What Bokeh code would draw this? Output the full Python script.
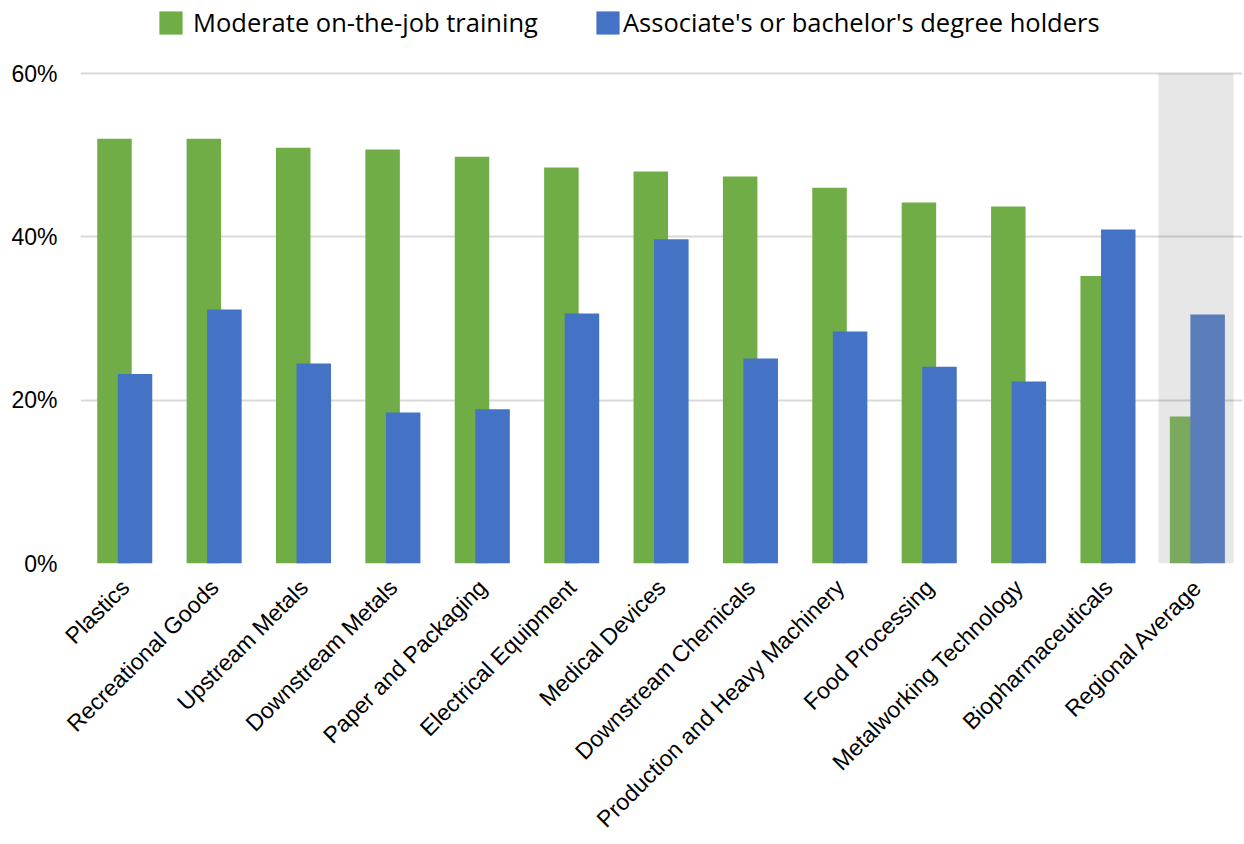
from bokeh.plotting import figure
from bokeh.models import (ColumnDataSource, FactorRange, FixedTicker, PrintfTickFormatter,
                          Legend, LegendItem, Range1d)
from bokeh.transform import dodge
from bokeh.embed import file_html
from bokeh.resources import INLINE
import math

# ---- data ----
categories = ["Plastics", "Recreational Goods", "Upstream Metals", "Downstream Metals",
              "Paper and Packaging", "Electrical Equipment", "Medical Devices",
              "Downstream Chemicals", "Production and Heavy Machinery", "Food Processing",
              "Metalworking Technology", "Biopharmaceuticals", "Regional Average"]
training = [52.0, 52.0, 50.9, 50.7, 49.8, 48.5, 48.0, 47.4, 46.0, 44.2, 43.7, 35.2, 18.0]
degree = [23.2, 31.1, 24.5, 18.5, 18.9, 30.6, 39.7, 25.1, 28.4, 24.1, 22.3, 40.9, 30.5]
series_names = ["Moderate on-the-job training", "Associate's or bachelor's degree holders"]
y_ticks = [0, 20, 40, 60]
highlight = "Regional Average"

GREEN, BLUE = "#70AD47", "#4472C4"
GREEN_H, BLUE_H = "#7BA95D", "#5B7DBC"

idx = [i for i, c in enumerate(categories) if c != highlight]
hidx = [i for i, c in enumerate(categories) if c == highlight]

main = ColumnDataSource(dict(cat=[categories[i] for i in idx],
                             tr=[training[i] for i in idx],
                             dg=[degree[i] for i in idx]))
hsrc = ColumnDataSource(dict(cat=[categories[i] for i in hidx],
                             tr=[training[i] for i in hidx],
                             dg=[degree[i] for i in hidx],
                             top=[max(y_ticks)] * len(hidx)))

# frame spans the full top so the legend can sit inside it; headroom above 60%
FRAME_H = 563
Y_TOP = max(y_ticks) * FRAME_H / (FRAME_H - 73.0)

p = figure(x_range=FactorRange(*categories), y_range=Range1d(0, Y_TOP),
           width=1244, height=844, output_backend="svg", toolbar_location=None,
           min_border_left=80, min_border_right=2, min_border_top=0, min_border_bottom=280)
p.outline_line_color = None
p.background_fill_color = "white"
p.border_fill_color = "white"

# axes / grid
p.xgrid.grid_line_color = None
p.ygrid.grid_line_color = "#D9D9D9"
p.ygrid.grid_line_width = 2
p.yaxis.ticker = FixedTicker(ticks=y_ticks)
p.yaxis.formatter = PrintfTickFormatter(format="%d%%")
for ax in (p.xaxis, p.yaxis):
    ax.axis_line_color = None
    ax.major_tick_line_color = None
    ax.minor_tick_line_color = None
    ax.major_tick_out = 0
    ax.major_tick_in = 0
    ax.major_label_text_font = "Liberation Sans"
    ax.major_label_text_color = "#000000"
    ax.major_label_text_font_size = "23px"
p.yaxis.major_label_standoff = 23
p.xaxis.major_label_standoff = 20
p.xaxis.major_label_orientation = math.pi / 4
p.x_range.range_padding = 0

# highlight band (translucent so grid lines show through)
p.vbar(x=dodge("cat", -0.02, range=p.x_range), top="top", bottom=0, width=0.84,
       source=hsrc, fill_color="#000000", fill_alpha=0.094, line_color=None)

w = 0.386
r_tr = p.vbar(x=dodge("cat", -0.12, range=p.x_range), top="tr", width=w, source=main,
              fill_color=GREEN, line_color=None)
r_dg = p.vbar(x=dodge("cat", 0.11, range=p.x_range), top="dg", width=w, source=main,
              fill_color=BLUE, line_color=None)
p.vbar(x=dodge("cat", -0.12, range=p.x_range), top="tr", width=w, source=hsrc,
       fill_color=GREEN_H, line_color=None)
p.vbar(x=dodge("cat", 0.11, range=p.x_range), top="dg", width=w, source=hsrc,
       fill_color=BLUE_H, line_color=None)

# legends (two, positioned individually inside the frame's headroom)
def make_legend(name, rend, loc, standoff):
    lg = Legend(items=[LegendItem(label=name, renderers=[rend])], location=loc,
                orientation="horizontal", padding=0, margin=0, spacing=0,
                glyph_width=29, glyph_height=29, label_standoff=standoff,
                label_text_font="Open Sans", label_text_font_size="25.5px",
                label_text_color="#000000", label_height=23,
                border_line_color=None, background_fill_alpha=0)
    p.add_layout(lg, "center")
    return lg

make_legend(series_names[0], r_tr, (76, 524), 8)
make_legend(series_names[1], r_dg, (513, 524), 1)

open("out.html", "w").write(file_html(p, INLINE))
